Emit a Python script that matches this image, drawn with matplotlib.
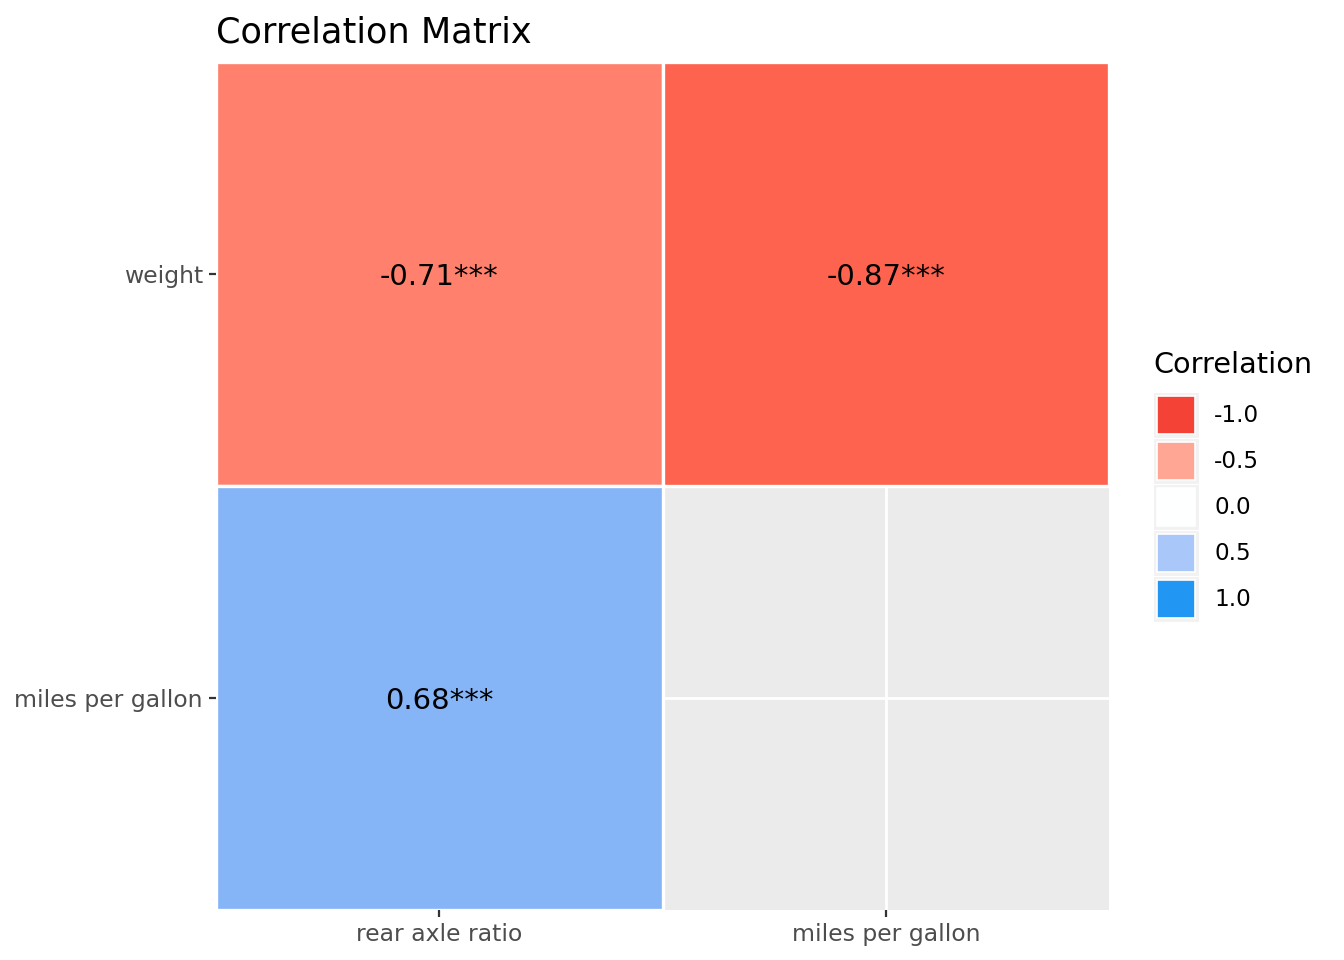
import matplotlib
matplotlib.use("Agg")
import matplotlib.pyplot as plt
import numpy as np
from matplotlib.colors import LinearSegmentedColormap, Normalize
from matplotlib.patches import Rectangle

# Data: correlation matrix (lower-left triangle only)
x_labels = ['rear axle ratio', 'miles per gallon']
y_labels = ['miles per gallon', 'weight']          # bottom to top
cell_x = ['rear axle ratio', 'miles per gallon', 'rear axle ratio']
cell_y = ['weight', 'weight', 'miles per gallon']
cell_r = [-0.71, -0.87, 0.68]
cell_sig = ['***', '***', '***']

legend_values = [-1.0, -0.5, 0.0, 0.5, 1.0]

# diverging red - white - blue scale (approximation of gradient2 in Lab)
cmap = LinearSegmentedColormap.from_list('corr', [
    (0.0, '#F44336'),
    (0.065, '#FD6450'),
    (0.145, '#FF806C'),
    (0.25, '#FFA794'),
    (0.5, '#FFFFFF'),
    (0.75, '#ABC8FA'),
    (0.84, '#87B5F7'),
    (1.0, '#2196F3'),
])
norm = Normalize(vmin=-1, vmax=1)

W, H = 1344, 960
fig = plt.figure(figsize=(W / 100, H / 100), dpi=100)
ax = fig.add_axes([216 / W, 1 - 910 / H, (1109 - 216) / W, (910 - 62) / H])
ax.set_facecolor('#EBEBEB')

ax.set_xlim(-0.5, len(x_labels) - 0.5)
ax.set_ylim(-0.5, len(y_labels) - 0.5)
ax.set_xticks(range(len(x_labels)))
ax.set_xticklabels(x_labels)
ax.set_yticks(range(len(y_labels)))
ax.set_yticklabels(y_labels)
ax.grid(True, color='white', linewidth=2.0)
ax.set_axisbelow(True)
for s in ax.spines.values():
    s.set_visible(False)
ax.tick_params(axis='both', colors='#333333', length=5, width=1.6,
               labelsize=16.9, labelcolor='#4D4D4D', pad=4.5)

for xl, yl, r, sig in zip(cell_x, cell_y, cell_r, cell_sig):
    xi = x_labels.index(xl)
    yi = y_labels.index(yl)
    ax.add_patch(Rectangle((xi - 0.5, yi - 0.5), 1, 1, facecolor=cmap(norm(r)),
                           edgecolor='white', linewidth=2.4, zorder=2))
    ax.text(xi, yi, f'{r:.2f}{sig}', ha='center', va='center_baseline',
            fontsize=20.9, color='black', zorder=3)

ax.set_title('Correlation Matrix', loc='left', fontsize=25.3, pad=14, color='black')

# legend drawn in pixel coordinates
lax = fig.add_axes([0, 0, 1, 1])
lax.set_xlim(0, W)
lax.set_ylim(H, 0)
lax.axis('off')
lax.text(1153, 365, 'Correlation', fontsize=20.7, ha='left', va='center')
key0, pitch, ksize = 392, 46, 46
for i, v in enumerate(legend_values):
    top = key0 + i * pitch
    lax.add_patch(Rectangle((1153, top), ksize, ksize, facecolor='#F2F2F2',
                            edgecolor='white', linewidth=0.8))
    lax.add_patch(Rectangle((1157, top + 4), ksize - 8, ksize - 8,
                            facecolor=cmap(norm(v)), edgecolor='white', linewidth=1.2))
    lax.text(1214, top + ksize / 2 + 1, f'{v:.1f}', fontsize=16.7, ha='left', va='center')

fig.savefig('out.png', dpi=100)
